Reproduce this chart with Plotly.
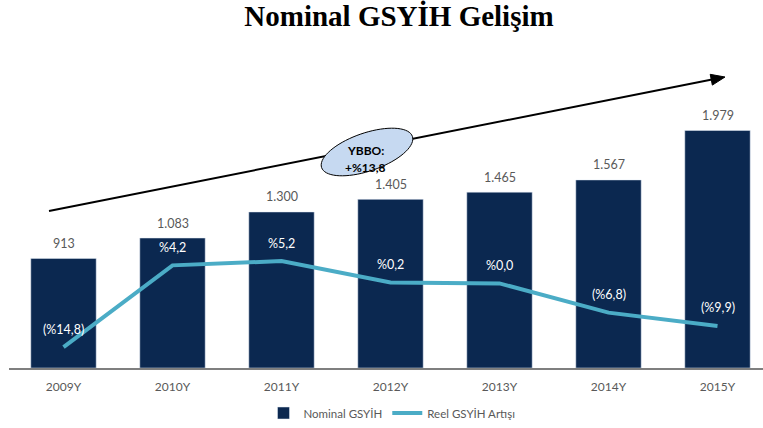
import math
import plotly.graph_objects as go

years = ["2009Y", "2010Y", "2011Y", "2012Y", "2013Y", "2014Y", "2015Y"]
nominal = [913, 1083, 1300, 1405, 1465, 1567, 1979]
nominal_labels = ["913", "1.083", "1.300", "1.405", "1.465", "1.567", "1.979"]
real_growth = [-14.8, 4.2, 5.2, 0.2, 0.0, -6.8, -9.9]
real_labels = ["(%14,8)", "%4,2", "%5,2", "%0,2", "%0,0", "(%6,8)", "(%9,9)"]
title_text = "Nominal GSYİH Gelişim"
badge_lines = ["YBBO:", "+%13,8"]

W, H = 763, 428
L, R, T, B = 9, 0, 100, 60
PW, PH = W - L - R, H - T - B

BAR = "#0b2850"
LINE = "#4bacc6"
GREY = "#595959"
FONT = "Lato, Open Sans, sans-serif"


def px(x, y):
    return (x - L) / PW, (H - B - y) / PH


fig = go.Figure()
fig.add_trace(go.Bar(
    x=years, y=nominal, name="Nominal GSYİH", marker_color=BAR, width=0.6,
    hoverinfo="x+y"))
fig.add_trace(go.Scatter(
    x=years, y=real_growth, name="Reel GSYİH Artışı", mode="lines",
    line=dict(color=LINE, width=4), yaxis="y2"))

annotations = []
for yr, v, t in zip(years, nominal, nominal_labels):
    annotations.append(dict(x=yr, y=v, xref="x", yref="y", text=t, showarrow=False,
                            yshift=15, font=dict(family=FONT, size=12.5, color=GREY)))
for yr, v, t in zip(years, real_growth, real_labels):
    annotations.append(dict(x=yr, y=v, xref="x", yref="y2", text=t, showarrow=False,
                            yshift=18, font=dict(family=FONT, size=12.5, color="white")))

# trend arrow and ellipse badge (decoration)
x0, y0 = px(49, 211)
x1, y1 = px(712, 79.5)
shapes = [dict(type="line", xref="paper", yref="paper", x0=x0, y0=y0, x1=x1, y1=y1,
               line=dict(color="black", width=2))]
tip = (725, 77)
ang = math.atan2(211 - 77, 49 - 725)
hl, hw = 14, 5.5
bx, by = tip[0] + hl * math.cos(ang), tip[1] + hl * math.sin(ang)
nx, ny = -math.sin(ang), math.cos(ang)
pts = [tip, (bx + hw * nx, by + hw * ny), (bx - hw * nx, by - hw * ny)]
pp = [px(*p) for p in pts]
path = "M " + " L ".join(f"{a:.5f},{b:.5f}" for a, b in pp) + " Z"
shapes.append(dict(type="path", xref="paper", yref="paper", path=path,
                   fillcolor="black", line=dict(color="black", width=1)))
cx, cy, a, b, th = 367, 152, 48, 19, math.radians(-19)
epts = []
for i in range(73):
    t = 2 * math.pi * i / 72
    ex = a * math.cos(t)
    ey = b * math.sin(t)
    X = cx + ex * math.cos(th) - ey * math.sin(th)
    Y = cy + ex * math.sin(th) + ey * math.cos(th)
    epts.append(px(X, Y))
epath = "M " + " L ".join(f"{u:.5f},{v:.5f}" for u, v in epts) + " Z"
shapes.append(dict(type="path", xref="paper", yref="paper", path=epath,
                   fillcolor="#c6d9f1", line=dict(color="black", width=1)))

for i, txt in enumerate(badge_lines):
    bx_, by_ = px(365, 141 + 17 * i)
    annotations.append(dict(x=bx_, y=by_, xref="paper", yref="paper", text=f"<b>{txt}</b>",
                            showarrow=False, font=dict(family=FONT, size=12, color="black")))

fig.update_layout(
    width=W, height=H,
    margin=dict(l=L, r=R, t=T, b=B),
    paper_bgcolor="white", plot_bgcolor="white",
    title=dict(text=f"<b>{title_text}</b>", x=399 / W, xanchor="center",
               y=1 - 16 / H, yanchor="middle",
               font=dict(family="Liberation Serif, Times New Roman, serif", size=29, color="black")),
    xaxis=dict(type="category", range=[-0.5, -0.5 + PW / 109], showgrid=False,
               showline=True, linecolor="#7f7f7f", linewidth=2,
               ticks="outside", ticklen=7, tickcolor="rgba(0,0,0,0)",
               tickfont=dict(family=FONT, size=12, color=GREY)),
    yaxis=dict(range=[0, 2233], visible=False, showgrid=False),
    yaxis2=dict(range=[-19.67, 42.65], overlaying="y", visible=False, showgrid=False),
    showlegend=True,
    legend=dict(orientation="h", x=px(392, 0)[0], xanchor="center",
                y=px(0, 413)[1], yanchor="middle",
                font=dict(family=FONT, size=11.5, color=GREY)),
    shapes=shapes,
    annotations=annotations,
    bargap=0.4,
)

fig.write_html("out.html", config={"displayModeBar": False},
               post_script="document.body.style.margin='0';")
